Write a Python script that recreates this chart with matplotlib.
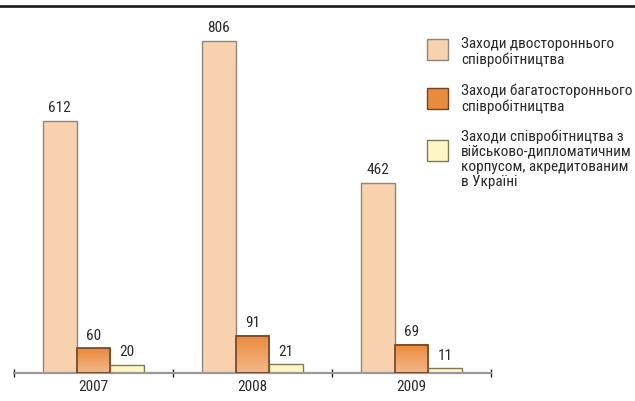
import matplotlib
matplotlib.use('Agg')
import matplotlib.pyplot as plt
import numpy as np
from matplotlib.patches import Rectangle
from matplotlib.lines import Line2D
from matplotlib.colors import LinearSegmentedColormap

plt.rcParams['font.family'] = ['Roboto Condensed', 'DejaVu Sans']

#%% data
years = ['2007', '2008', '2009']
bilateral = [612, 806, 462]
multilateral = [60, 91, 69]
military_diplomatic = [20, 21, 11]
legend_labels = ['Заходи двостороннього\nспівробітництва',
                 'Заходи багатостороннього\nспівробітництва',
                 'Заходи співробітництва з\nвійськово-дипломатичним\nкорпусом, акредитованим\nв Україні']

W, H = 635, 401
fig = plt.figure(figsize=(W/100, H/100), dpi=100)
ax = fig.add_axes([14/W, 28/H, (491-14)/W, (373-8)/H])

x = np.arange(len(years))
bw = 0.212
light_c = '#f8d1ae'
orange_c = '#e98b3c'
yellow_c = '#fff7c2'
txt_c = '#2a2a2a'

b1 = ax.bar(x - bw, bilateral, bw, color=light_c, edgecolor='#8c8580', linewidth=1, zorder=2)
b2 = ax.bar(x, multilateral, bw, color='none', edgecolor='#6e4424', linewidth=1.2, zorder=3)
b3 = ax.bar(x + bw, military_diplomatic, bw, color=yellow_c, edgecolor='#7d7a5c', linewidth=1, zorder=2)

# gradient fill for the orange bars (dark on top, light at the bottom)
grad = LinearSegmentedColormap.from_list('og', ['#f4b888', '#e98a3c'])
for r in b2:
    ax.imshow(np.linspace(0, 1, 64).reshape(-1, 1), cmap=grad, origin='lower', aspect='auto',
              extent=[r.get_x(), r.get_x() + r.get_width(), 0, r.get_height()], zorder=2.5)
ax.set_xlim(-0.5, 2.5)
ax.set_ylim(0, 806 * 365 / 332)

for bars in (b1, b2, b3):
    for r in bars:
        ax.annotate(str(int(r.get_height())), (r.get_x() + r.get_width()/2, r.get_height()),
                    xytext=(0, 4), textcoords='offset points', ha='center', va='bottom',
                    fontsize=11, color=txt_c)

for s in ['top', 'left', 'right']:
    ax.spines[s].set_visible(False)
ax.spines['bottom'].set_color('#999999')
ax.spines['bottom'].set_linewidth(1.6)
ax.set_yticks([])
ax.set_xticks([-0.5, 0.5, 1.5, 2.5], minor=False)
ax.set_xticklabels([])
ax.tick_params(axis='x', direction='inout', length=6, width=1, color='#222222')
ax.set_xticks(x, minor=True)
ax.set_xticklabels(years, minor=True, fontsize=11, color=txt_c)
ax.tick_params(axis='x', which='minor', length=0, pad=5)

# top rule
fig.add_artist(Line2D([0, 1], [1 - 6/H, 1 - 6/H], transform=fig.transFigure, color='#1a1a1a', linewidth=1.9))

# legend
patch_y = [39, 88, 140]
text_y = [37, 84, 129]
for c, ec, py, ty, lab in zip([light_c, orange_c, yellow_c], ['#8c8580', '#6e4424', '#7d7a5c'],
                              patch_y, text_y, legend_labels):
    fig.add_artist(Rectangle((427/W, 1 - (py + 21)/H), 21/W, 21/H, transform=fig.transFigure,
                             facecolor=c, edgecolor=ec, linewidth=1))
    fig.text(461/W, 1 - ty/H, lab, fontsize=11, va='top', ha='left', color=txt_c, linespacing=1.1)

plt.savefig('out.png', dpi=100)
